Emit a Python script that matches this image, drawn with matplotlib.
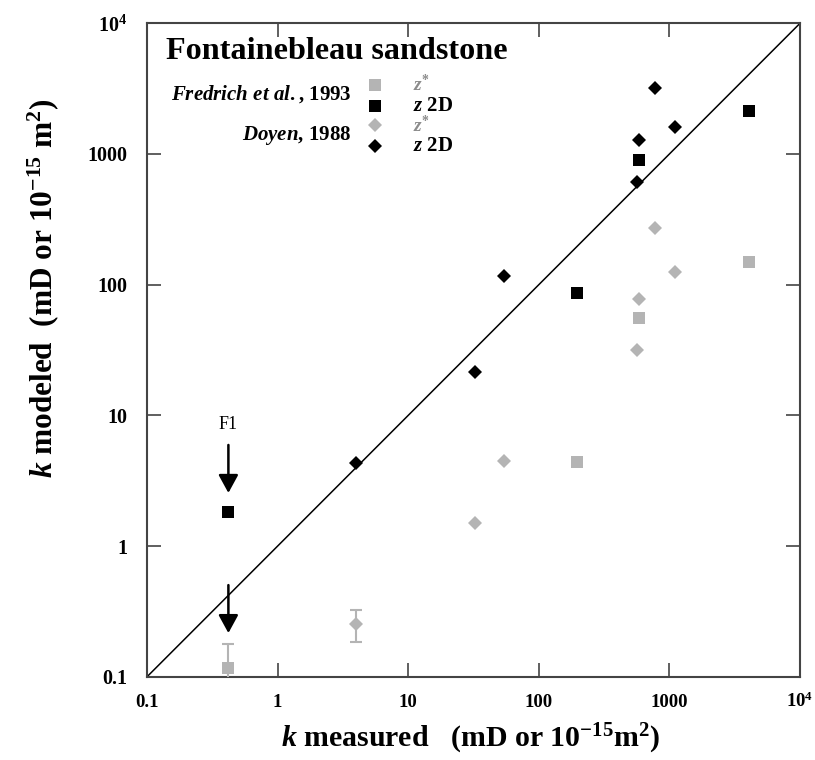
import matplotlib
matplotlib.use("Agg")
import matplotlib.pyplot as plt
from matplotlib.lines import Line2D

plt.rcParams['font.family'] = ['Liberation Serif', 'DejaVu Serif']
plt.rcParams['mathtext.fontset'] = 'custom'
plt.rcParams['mathtext.rm'] = 'Liberation Serif:bold'
plt.rcParams['mathtext.it'] = 'Liberation Serif:italic:bold'
plt.rcParams['mathtext.bf'] = 'Liberation Serif:bold'

# ---- data ----
fred_meas = [0.42, 197, 585, 4090]
fred_zstar = [0.117, 4.37, 55.3, 150]
fred_z2d = [1.82, 86, 900, 2134]

doy_meas = [3.98, 32.7, 54.2, 568, 585, 776, 1104]
doy_zstar = [0.254, 1.49, 4.48, 31.5, 77.8, 270, 124]
doy_z2d = [4.31, 21.4, 117, 614, 1280, 3213, 1600]

# error bars (lower, upper) for the low-permeability z* points
fred_err_meas = [0.42]
fred_err_val = [0.117]
fred_err_lo = [0.05]
fred_err_hi = [0.178]
doy_err_meas = [3.98]
doy_err_val = [0.254]
doy_err_lo = [0.186]
doy_err_hi = [0.324]

tick_vals = [0.1, 1, 10, 100, 1000, 10000]
tick_labels = ['0.1', '1', '10', '100', '1000', r'$10^{4}$']
lims = [0.1, 10000]

GRAY = '#b4b4b4'
AXC = '#444444'

fig = plt.figure(figsize=(8.15, 7.6), dpi=100)
ax = fig.add_axes([147/815, 1-676.8/760, 653/815, 653.5/760])
ax.set_xscale('log')
ax.set_yscale('log')
ax.set_xlim(lims)
ax.set_ylim(lims)

ax.plot(lims, lims, color='black', lw=1.1, zorder=2)

# error bars
ax.errorbar(fred_err_meas, fred_err_val,
            yerr=[[v - l for v, l in zip(fred_err_val, fred_err_lo)],
                  [h - v for v, h in zip(fred_err_val, fred_err_hi)]],
            fmt='none', ecolor=GRAY, elinewidth=1.5, capsize=4, capthick=1.5, zorder=3)
ax.errorbar(doy_err_meas, doy_err_val,
            yerr=[[v - l for v, l in zip(doy_err_val, doy_err_lo)],
                  [h - v for v, h in zip(doy_err_val, doy_err_hi)]],
            fmt='none', ecolor=GRAY, elinewidth=1.5, capsize=4, capthick=1.5, zorder=3)

ms_sq = 9
ms_d = 7.2
ax.plot(fred_meas, fred_zstar, 's', color=GRAY, ms=ms_sq, mew=0, ls='none', zorder=4)
ax.plot(fred_meas, fred_z2d, 's', color='black', ms=ms_sq, mew=0, ls='none', zorder=4)
ax.plot(doy_meas, doy_zstar, 'D', color=GRAY, ms=ms_d, mew=0, ls='none', zorder=4)
ax.plot(doy_meas, doy_z2d, 'D', color='black', ms=ms_d, mew=0, ls='none', zorder=4)

# axes styling
ax.set_xticks(tick_vals)
ax.set_xticklabels(tick_labels)
ax.set_yticks(tick_vals)
ax.set_yticklabels(tick_labels)
ax.minorticks_off()
ax.tick_params(which='major', direction='in', length=10, width=1.2, color=AXC,
               top=True, right=True)
ax.tick_params(axis='x', labelsize=13.5, pad=21.5)
ax.tick_params(axis='y', labelsize=14.5, pad=14)
for lab in ax.get_xticklabels():
    lab.set_fontweight('bold')
    lab.set_verticalalignment('baseline')
for lab in ax.get_yticklabels():
    lab.set_fontweight('bold')
for s in ax.spines.values():
    s.set_color(AXC)
    s.set_linewidth(1.5)

ax.text(0.495, -0.1074, r'$k$ measured   (mD or 10$^{-15}$m$^{2}$)', transform=ax.transAxes,
        fontsize=21.5, fontweight='bold', ha='center', va='baseline')
ax.text(-0.1455, 0.595, r'$k$ modeled  (mD or 10$^{-15}$ m$^{2}$)', transform=ax.transAxes,
        fontsize=22.5, fontweight='bold', ha='center', va='baseline', rotation=90,
        rotation_mode='anchor')

# title + legend
ax.text(0.029, 0.9454, 'Fontainebleau sandstone', transform=ax.transAxes,
        fontsize=23.2, fontweight='bold', va='baseline', ha='left')
ax.text(0.3134, 0.8837, r'$\mathit{Fredrich\ et\ al.}\mathrm{,}$ 1993', transform=ax.transAxes,
        fontsize=15, fontweight='bold', va='baseline', ha='right')
ax.text(0.3134, 0.8214, r'$\mathit{Doyen}\mathrm{,}$ 1988', transform=ax.transAxes,
        fontsize=15, fontweight='bold', va='baseline', ha='right')

leg_items = [('s', GRAY, ms_sq, 0.9056), ('s', 'black', ms_sq, 0.8734),
             ('D', GRAY, ms_d, 0.8444), ('D', 'black', ms_d, 0.8127)]
for m, c, s, yy in leg_items:
    ax.add_line(Line2D([0.349], [yy], marker=m, color=c, ms=s, mew=0, ls='none',
                       transform=ax.transAxes, clip_on=False))
for yy in (0.8969, 0.8341):
    ax.text(0.4073, yy, r'$z^{*}$', transform=ax.transAxes, fontsize=14,
            color='#8c8c8c', va='baseline', ha='left')
for yy in (0.8658, 0.8046):
    ax.text(0.4073, yy, r'$z$ 2D', transform=ax.transAxes, fontsize=15,
            fontweight='bold', va='baseline', ha='left')

# F1 annotation and arrows
ax.text(0.42, 8.45, 'F1', fontsize=13, ha='center', va='center')
arrow_kw = dict(arrowstyle='-|>,head_length=0.55,head_width=0.3', color='black', lw=1.8,
                shrinkA=0, shrinkB=0, mutation_scale=20)
ax.annotate('', xy=(0.42, 2.55), xytext=(0.42, 5.94), arrowprops=arrow_kw)
ax.annotate('', xy=(0.42, 0.216), xytext=(0.42, 0.503), arrowprops=arrow_kw)

fig.savefig('out.png', dpi=100)
